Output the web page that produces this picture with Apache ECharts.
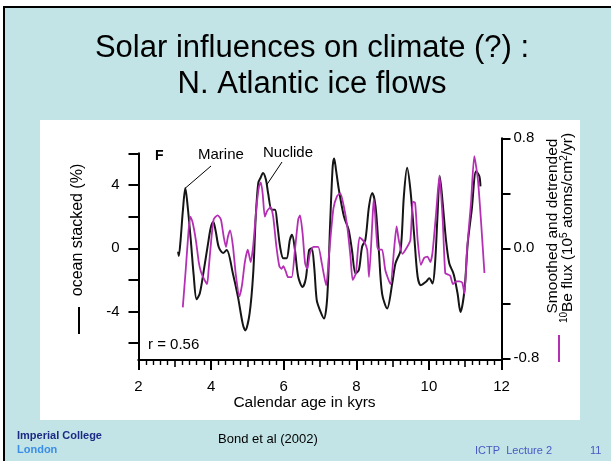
<!DOCTYPE html>
<html><head><meta charset="utf-8">
<script src="https://cdn.jsdelivr.net/npm/echarts@6/dist/echarts.min.js"></script>
<style>html,body{margin:0;padding:0;background:#fff}#c{width:611px;height:461px}</style>
</head><body><div id="c"></div>
<script>
// ---- data ----
const marineAge = [3.09,3.11,3.16,3.22,3.29,3.35,3.44,3.52,3.60,3.69,
  3.80,3.91,3.99,4.06,4.13,4.21,4.33,4.43,4.60,4.74,
  4.87,4.94,5.06,5.16,5.23,5.30,5.36,5.43,5.51,5.57,
  5.67,5.76,5.82,5.90,5.99,6.08,6.17,6.23,6.31,6.40,
  6.52,6.61,6.70,6.77,6.84,6.91,7.00,7.11,7.20,7.28,
  7.35,7.39,7.44,7.52,7.66,7.79,7.88,7.98,8.07,8.16,
  8.25,8.35,8.44,8.53,8.62,8.71,8.85,8.99,9.08,9.22,
  9.31,9.40,9.49,9.59,9.69,9.78,9.92,10.01,10.10,10.17,
  10.24,10.30,10.38,10.47,10.56,10.66,10.70,10.79,10.87,10.98,
  11.07,11.18,11.30,11.39,11.42];
const marineValue = [-0.22,-0.49,0.53,2.31,3.80,2.75,0.53,-1.70,-3.22,-2.84,
  -1.38,0.21,1.29,1.67,1.04,0.08,-0.30,-0.11,-1.59,-3.07,
  -4.76,-5.19,-4.13,-1.59,2.01,4.13,4.44,4.76,4.34,3.49,
  2.43,2.43,1.59,0.10,-0.63,-0.63,0.53,0.85,-0.11,-1.80,
  -2.44,-1.90,-0.11,0.00,-1.17,-3.28,-3.92,-4.44,-3.07,1.59,
  5.18,5.67,4.97,3.70,2.01,1.16,-0.11,-1.59,-1.38,0.10,
  0.53,2.64,3.49,2.64,-0.11,-2.86,-3.81,-2.22,-0.95,-0.11,
  3.28,5.08,3.70,0.95,-1.80,-2.33,-2.12,-1.90,-2.22,-0.95,
  2.22,4.55,2.86,0.53,-0.95,-1.49,-1.80,-2.86,-4.03,-2.65,
  0.32,2.43,4.86,4.55,3.91];
const nuclideAge = [3.22,3.30,3.38,3.43,3.49,3.58,3.66,3.72,3.80,3.89,
  3.93,3.99,4.07,4.18,4.27,4.35,4.41,4.46,4.52,4.60,
  4.68,4.78,4.85,4.93,5.01,5.09,5.16,5.25,5.32,5.37,
  5.42,5.48,5.54,5.64,5.71,5.80,5.88,5.94,5.99,6.06,
  6.12,6.22,6.31,6.40,6.45,6.52,6.59,6.65,6.72,6.82,
  6.95,7.05,7.17,7.26,7.37,7.47,7.56,7.66,7.75,7.84,
  7.90,7.99,8.09,8.21,8.30,8.35,8.44,8.48,8.58,8.62,
  8.71,8.80,8.94,9.04,9.11,9.17,9.27,9.40,9.49,9.56,
  9.62,9.69,9.78,9.87,9.96,10.04,10.10,10.20,10.29,10.38,
  10.45,10.52,10.59,10.66,10.75,10.84,10.92,10.98,11.05,11.16,
  11.25,11.35,11.44,11.53];
const nuclideValue = [-0.43,-0.16,0.13,0.23,0.19,0.06,-0.10,-0.17,-0.22,-0.26,
  -0.16,0.02,0.21,0.24,0.21,0.08,0.01,0.08,0.13,0.02,
  -0.19,-0.35,-0.27,-0.10,-0.01,-0.10,0.02,0.30,0.45,0.48,
  0.40,0.23,0.27,0.30,0.23,0.01,-0.13,-0.15,-0.13,-0.17,
  -0.21,-0.21,-0.01,0.21,0.24,0.11,-0.11,-0.15,-0.04,0.01,
  0.01,-0.11,-0.27,-0.01,0.29,0.38,0.40,0.30,0.16,-0.06,
  -0.23,-0.18,0.08,0.05,-0.01,-0.21,0.18,0.36,0.01,-0.01,
  -0.01,-0.16,-0.26,-0.01,0.16,0.06,-0.04,0.01,0.06,0.34,
  0.33,0.06,-0.12,-0.07,-0.06,-0.10,-0.03,0.26,0.53,0.21,
  -0.18,-0.19,-0.20,-0.26,-0.24,-0.24,-0.25,-0.33,-0.01,0.33,
  0.67,0.50,0.18,-0.18];
const xTickLabels = [2,4,6,8,10,12];
const leftTicks = [-6,-4,-2,0,2,4,6];
const leftTickLabels = [-4,0,4];
const rightTickLabels = [-0.8,0,0.8];

// ---- chart ----
const FONT = '"Liberation Sans", Arial, Helvetica, sans-serif';
const chart = echarts.init(document.getElementById('c'), null, {renderer:'canvas'});
const axisLine = {show:true, onZero:false, lineStyle:{color:'#000', width:2}};
const grids = {left:138.5, right:109.5};

const option = {
  backgroundColor:'#ffffff',
  animation:false,
  grid:[
    {left:grids.left, right:grids.right, top:153.3, bottom:101},
    {left:grids.left, right:grids.right, top:138.3, bottom:102.7}
  ],
  xAxis:[
    {gridIndex:0, type:'value', position:'bottom', min:2, max:12, interval:2,
     axisLine:axisLine,
     axisTick:{show:true, length:10, lineStyle:{color:'#000', width:2}},
     axisLabel:{color:'#000', fontSize:15, margin:19, fontFamily:FONT,
                customValues:xTickLabels},
     splitLine:{show:false}},
    {gridIndex:0, type:'value', position:'bottom', min:2, max:12, interval:1,
     axisLine:axisLine,
     axisTick:{show:true, length:7, lineStyle:{color:'#000', width:1.6}},
     minorTick:{show:true, splitNumber:5, length:5, lineStyle:{color:'#000', width:1.4}},
     axisLabel:{show:false}, splitLine:{show:false}},
    {gridIndex:1, type:'value', min:2, max:12, show:false, axisLine:{onZero:false}}
  ],
  yAxis:[
    {gridIndex:0, type:'value', position:'left', min:-7.06, max:6,
     axisLine:axisLine,
     axisTick:{show:true, length:10, customValues:leftTicks, lineStyle:{color:'#000', width:2}},
     axisLabel:{color:'#000', fontSize:15, margin:19, fontFamily:FONT, customValues:leftTickLabels},
     splitLine:{show:false}},
    {gridIndex:1, type:'value', position:'right', min:-0.8, max:0.8, interval:0.4,
     axisLine:axisLine,
     axisTick:{show:true, length:9, lineStyle:{color:'#000', width:2}},
     axisLabel:{color:'#000', fontSize:15, margin:12, fontFamily:FONT, customValues:rightTickLabels,
                formatter:v => Number(v).toFixed(1)},
     splitLine:{show:false}}
  ],
  series:[
    {type:'line', name:'Marine', xAxisIndex:0, yAxisIndex:0,
     data:marineAge.map((t,i)=>[t, marineValue[i]]),
     symbol:'none', smooth:0.3, lineStyle:{color:'#151515', width:2}, z:3},
    {type:'line', name:'Nuclide', xAxisIndex:2, yAxisIndex:1,
     data:nuclideAge.map((t,i)=>[t, nuclideValue[i]]),
     symbol:'none', smooth:0.2, lineStyle:{color:'#b52fb5', width:1.8}, z:4}
  ]
};
chart.setOption(option);

// annotations (leader lines end on the data peaks, located through the axes)
const pM = chart.convertToPixel({xAxisIndex:0, yAxisIndex:0}, [marineAge[4], marineValue[4]]);
const pN = chart.convertToPixel({xAxisIndex:0, yAxisIndex:0}, [marineAge[28], marineValue[28]]);
const txt = (x,y,text,extra) => Object.assign({type:'text', x:x, y:y, z:50,
  style:Object.assign({text:text, fill:'#000', font:'15px '+FONT, align:'left', verticalAlign:'middle'}, extra||{})});
chart.setOption({
  graphic:[
    {type:'rect', z:-100, shape:{x:4, y:7, width:700, height:500},
     style:{fill:'#c2e4e6', stroke:'#000', lineWidth:2}},
    {type:'rect', z:-90, shape:{x:40, y:120, width:540, height:300}, style:{fill:'#fff'}},
    txt(312, 48, 'Solar influences on climate (?) :', {font:'31px '+FONT, align:'center'}),
    txt(312, 84, 'N. Atlantic ice flows', {font:'31px '+FONT, align:'center'}),
    txt(155, 156, 'F', {font:'bold 14px '+FONT}),
    txt(198, 155, 'Marine'),
    txt(263, 153, 'Nuclide'),
    txt(148, 345, 'r = 0.56'),
    {type:'line', z:50, shape:{x1:211, y1:166, x2:pM[0], y2:pM[1]}, style:{stroke:'#000', lineWidth:1}},
    {type:'line', z:50, shape:{x1:282, y1:162, x2:pN[0]+1, y2:pN[1]+5}, style:{stroke:'#000', lineWidth:1}},
    txt(304.5, 403, 'Calendar age in kyrs', {align:'center', font:'15.5px '+FONT}),
    {type:'text', x:78, y:230, rotation:Math.PI/2, z:50,
     style:{text:'ocean stacked (%)', fill:'#000', font:'16px '+FONT, align:'center', verticalAlign:'middle'}},
    {type:'line', z:50, shape:{x1:79, y1:307, x2:79, y2:334}, style:{stroke:'#000', lineWidth:2}},
    {type:'text', x:553, y:226, rotation:Math.PI/2, z:50,
     style:{text:'Smoothed and detrended', fill:'#000', font:'15.5px '+FONT, align:'center', verticalAlign:'middle'}},
    {type:'text', x:568, y:228, rotation:Math.PI/2, z:50,
     style:{text:'{s|10}Be flux (10{s|5} atoms/cm{s|2}/yr)', fill:'#000', font:'15.5px '+FONT,
            align:'center', verticalAlign:'middle',
            rich:{s:{fontSize:10, fontFamily:FONT, verticalAlign:'top', lineHeight:18}}}},
    {type:'line', z:50, shape:{x1:559, y1:335, x2:559, y2:362}, style:{stroke:'#b52fb5', lineWidth:2}},
    txt(17, 436, 'Imperial College', {font:'bold 11px '+FONT, fill:'#1b2a84'}),
    txt(17, 450, 'London', {font:'bold 11px '+FONT, fill:'#3a8ee6'}),
    txt(218, 439, 'Bond et al (2002)', {font:'13px '+FONT}),
    txt(475, 451, 'ICTP  Lecture 2', {font:'11px '+FONT, fill:'#4a58c4'}),
    txt(590, 451, '11', {font:'11px '+FONT, fill:'#4a58c4'})
  ]
});
</script>
</body></html>
